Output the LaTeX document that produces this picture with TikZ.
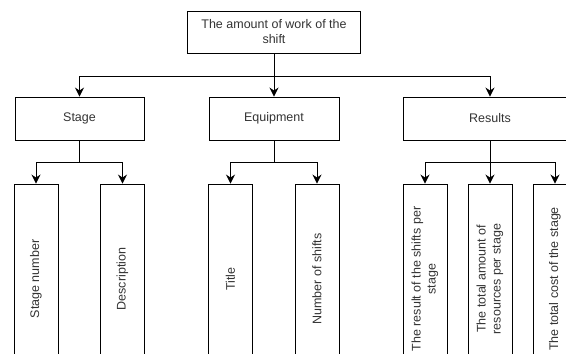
\documentclass[tikz,border=0pt]{standalone}
\usepackage{fontspec}
\setmainfont{Liberation Sans}
\usepackage{tikz}
\usetikzlibrary{arrows.meta}

\begin{document}
\begin{tikzpicture}[x=1pt, y=1pt, line width=0.9pt,
  every node/.style={font=\fontsize{12.5}{15}\selectfont, text=black!80},
  box/.style={draw, rectangle, inner sep=0pt, align=center},
  tall/.style={box, rotate=90, minimum width=190pt, minimum height=44pt},
  arr/.style={-{Stealth[length=9pt,width=9pt,inset=3pt]}}]

\useasboundingbox (0,0) rectangle (566,354);

% head and the three groups

\path
(274,322) node[box, minimum width=173pt, minimum height=42pt] (shift) {The amount of work of the\\shift}
(79.5,235.5) node[box, minimum width=129pt, minimum height=43pt] (stage) {Stage}
(274,235.5) node[box, minimum width=130pt, minimum height=43pt] (equip) {Equipment}
(490,235.5) node[box, minimum width=174pt, minimum height=43pt] (results) {Results};

% columns (run past the lower edge)

\path
(36,75) node[tall] (stagenum) {Stage number}
(122.5,75) node[tall] (descr) {Description}
(230.5,75) node[tall] (title) {Title}
(317,75) node[tall] (nshifts) {Number of shifts}
(425,75) node[tall] (resshift) {The result of the shifts per\\stage}
(490,75) node[tall] (resources) {The total amount of\\resources per stage}
(555,75) node[tall] (cost) {The total cost of the stage};

\coordinate (topbar) at (274,278);
\draw (shift.south) -- (topbar);
\draw[arr] (topbar) -| (stage.north);
\draw[arr] (topbar) -- (equip.north);
\draw[arr] (topbar) -| (results.north);

\draw[arr] (stage.south) -- ++(0,-22) -| (stagenum.east);
\draw[arr] (stage.south) -- ++(0,-22) -| (descr.east);
\draw[arr] (equip.south) -- ++(0,-22) -| (title.east);
\draw[arr] (equip.south) -- ++(0,-22) -| (nshifts.east);
\draw[arr] (results.south) -- ++(0,-22) -| (resshift.east);
\draw[arr] (results.south) -- (resources.east);
\draw[arr] (results.south) -- ++(0,-22) -| (cost.east);

\end{tikzpicture}
\end{document}
